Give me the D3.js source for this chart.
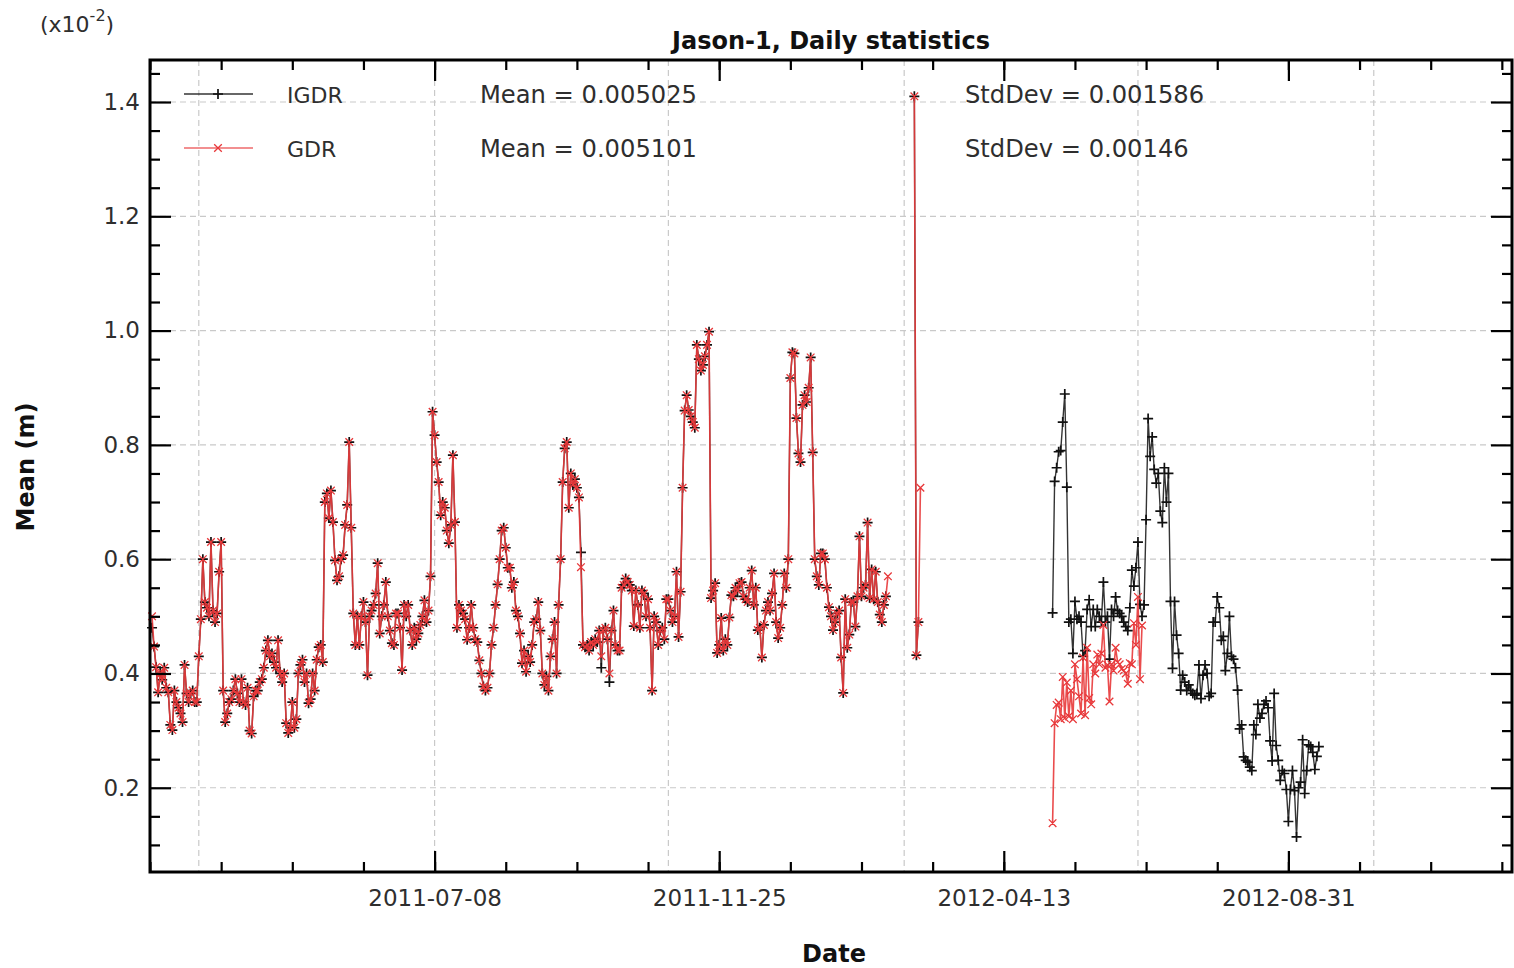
<!DOCTYPE html>
<html><head><meta charset="utf-8">
<script src="https://cdn.jsdelivr.net/npm/d3@7"></script>
<style>
body{margin:0;background:#fff;}
text{font-family:"DejaVu Sans",sans-serif;}
</style></head><body>
<svg id="chart" width="1514" height="968"></svg>
<script>
// ---------------- DATA ----------------
const seriesNames = ["IGDR", "GDR"];
const meanLabels = ["Mean = 0.005025", "Mean = 0.005101"];
const stdLabels = ["StdDev = 0.001586", "StdDev = 0.00146"];
const majorTickDates = ["2011-07-08", "2011-11-25", "2012-04-13", "2012-08-31"];
const gridDates = ["2011-03-14", "2011-07-08", "2011-10-31", "2012-02-24", "2012-06-18", "2012-10-12"];
const yTickValues = [0.2, 0.4, 0.6, 0.8, 1.0, 1.2, 1.4];

// daily values, units of 1e-2 m
const seg1Start = "2011-02-19";
const igdrSeg1 = [
0.48,0.447,0.411,0.367,0.40,0.389,0.41,0.375,0.367,0.31,0.301,0.37,0.35,0.34,0.33,0.315,0.415,0.365,0.35,0.365,0.37,0.35,0.35,0.43,0.495,
0.60,
0.525,0.515,0.50,0.63,0.51,0.49,0.505,0.578,0.63,
0.37,0.315,0.33,0.35,0.355,0.37,0.39,0.365,0.35,0.39,0.35,0.345,0.375,0.30,0.295,
0.36,0.37,0.37,0.385,0.39,0.41,0.44,0.458,0.43,0.435,0.42,0.41,0.458,0.40,0.385,0.40,0.313,0.296,
0.305,0.35,0.305,0.32,0.40,0.415,0.424,0.385,0.40,0.348,0.355,0.40,0.37,0.424,0.446,0.45,0.42,
0.70,0.715,0.672,0.72,0.665,0.598,0.563,0.57,0.60,0.607,0.66,0.695,0.805,
0.655,0.505,0.45,0.50,0.45,0.50,0.525,0.49,0.397,
0.50,0.51,0.52,0.54,0.593,0.47,0.50,0.52,0.56,0.50,0.475,0.453,0.45,0.505,0.505,0.48,0.406,0.52,0.50,0.52,0.475,0.45,0.48,0.46,0.47,0.485,0.50,0.528,0.49,0.51,0.57,
0.858,
0.817,0.77,0.735,0.677,0.70,0.69,0.65,0.628,0.66,
0.782,
0.665,0.48,0.52,0.51,0.505,0.495,0.459,0.48,0.52,0.48,0.46,0.455,0.423,0.40,0.377,0.37,0.375,
0.40,0.45,0.48,0.52,0.556,0.60,0.65,
0.655,0.62,0.585,0.585,0.55,0.56,0.51,0.50,0.47,0.418,0.44,0.403,0.43,0.42,0.45,0.49,0.495,0.525,0.475,0.40,0.38,0.395,
0.37,
0.43,0.46,0.49,0.40,0.52,0.60,0.735,0.794,0.805,
0.69,0.75,0.73,0.74,0.725,0.708,0.612,0.45,0.446,
0.45,0.44,0.455,0.45,0.46,0.455,0.475,0.41,0.475,0.48,0.46,0.385,
0.475,0.51,0.45,0.44,0.44,0.55,0.555,0.566,0.56,0.555,0.545,0.483,0.545,0.52,0.48,0.545,0.54,0.50,0.53,0.48,0.37,
0.50,0.49,0.45,0.475,0.48,0.46,0.53,0.53,0.51,0.49,0.50,0.578,0.464,0.543,0.725,0.86,0.887,
0.861,0.85,0.84,0.83,0.975,0.95,0.93,0.94,0.955,0.975,0.998,0.532,
0.545,0.558,0.436,0.45,0.497,0.44,0.46,0.45,0.498,0.537,0.535,0.55,0.545,0.558,0.56,0.535,0.53,0.525,0.55,0.58,0.52,0.55,0.476,0.48,0.428,0.485,0.51,0.525,0.51,0.54,0.575,0.49,0.462,0.48,0.52,0.575,0.55,0.60,
0.917,0.962,0.96,0.847,0.785,0.77,0.87,0.887,0.875,0.90,0.953,
0.787,0.60,0.57,0.555,0.61,0.61,0.60,0.55,0.516,0.50,0.476,0.49,0.505,0.51,0.428,0.366,
0.53,0.445,0.468,0.525,0.525,0.482,0.535,0.64,0.535,0.55,0.555,0.664,0.532,0.582,0.53,0.578,0.525,0.503,0.49,0.52,0.535
];
const gdrSeg1 = [
0.50,0.447,0.411,0.367,0.40,0.389,0.41,0.375,0.367,0.31,0.301,0.37,0.35,0.34,0.33,0.315,0.415,0.365,0.35,0.365,0.37,0.35,0.35,0.43,0.495,
0.60,
0.525,0.515,0.50,0.63,0.51,0.49,0.505,0.578,0.63,
0.37,0.315,0.33,0.35,0.355,0.37,0.39,0.365,0.35,0.39,0.35,0.345,0.375,0.30,0.295,
0.36,0.37,0.37,0.385,0.39,0.41,0.44,0.458,0.43,0.435,0.42,0.41,0.458,0.40,0.385,0.40,0.313,0.296,
0.305,0.35,0.305,0.32,0.40,0.415,0.424,0.385,0.40,0.348,0.355,0.40,0.37,0.424,0.446,0.45,0.42,
0.70,0.715,0.672,0.72,0.665,0.598,0.563,0.57,0.60,0.607,0.66,0.695,0.805,
0.655,0.505,0.45,0.50,0.45,0.50,0.525,0.49,0.397,
0.50,0.51,0.52,0.54,0.593,0.47,0.50,0.52,0.56,0.50,0.475,0.453,0.45,0.505,0.505,0.48,0.406,0.52,0.50,0.52,0.475,0.45,0.48,0.46,0.47,0.485,0.50,0.528,0.49,0.51,0.57,
0.858,
0.817,0.77,0.735,0.677,0.70,0.69,0.65,0.628,0.66,
0.782,
0.665,0.48,0.52,0.51,0.505,0.495,0.459,0.48,0.52,0.48,0.46,0.455,0.423,0.40,0.377,0.37,0.375,
0.40,0.45,0.48,0.52,0.556,0.60,0.65,
0.655,0.62,0.585,0.585,0.55,0.56,0.51,0.50,0.47,0.418,0.44,0.403,0.43,0.42,0.45,0.49,0.495,0.525,0.475,0.40,0.38,0.395,
0.37,
0.43,0.46,0.49,0.40,0.52,0.60,0.735,0.794,0.805,
0.69,0.75,0.73,0.74,0.725,0.708,0.586,0.45,0.446,
0.45,0.44,0.455,0.45,0.46,0.455,0.475,0.43,0.475,0.48,0.46,0.40,
0.475,0.51,0.45,0.44,0.44,0.55,0.555,0.566,0.56,0.555,0.545,0.483,0.545,0.52,0.48,0.545,0.54,0.50,0.53,0.48,0.37,
0.50,0.49,0.45,0.475,0.48,0.46,0.53,0.53,0.51,0.49,0.50,0.578,0.464,0.543,0.725,0.86,0.887,
0.861,0.85,0.84,0.83,0.975,0.95,0.93,0.94,0.955,0.975,0.998,0.532,
0.545,0.558,0.436,0.45,0.497,0.44,0.46,0.45,0.498,0.537,0.535,0.55,0.545,0.558,0.56,0.535,0.53,0.525,0.55,0.58,0.52,0.55,0.476,0.48,0.428,0.485,0.51,0.525,0.51,0.54,0.575,0.49,0.462,0.48,0.52,0.575,0.55,0.60,
0.917,0.962,0.96,0.847,0.785,0.77,0.87,0.887,0.875,0.90,0.953,
0.787,0.60,0.57,0.555,0.61,0.61,0.60,0.55,0.516,0.50,0.476,0.49,0.505,0.51,0.428,0.366,
0.53,0.445,0.468,0.525,0.525,0.482,0.535,0.64,0.535,0.55,0.555,0.664,0.532,0.582,0.53,0.578,0.525,0.503,0.49,0.52,0.535,0.57
];
const spikeStart = "2012-02-29";
const igdrSpike = [1.41, 0.432, 0.49];
const gdrSpike = [1.41, 0.432, 0.49, 0.725];
const seg2Start = "2012-05-07";
const igdrSeg2 = [
0.506,0.736,0.76,0.788,0.79,0.84,0.889,0.726,0.49,0.495,0.435,0.526,0.495,0.50,0.49,0.43,0.44,0.512,0.529,0.482,
0.512,0.482,0.512,0.50,0.49,0.56,0.49,0.50,0.425,0.512,0.50,0.534,0.51,0.505,0.50,0.49,0.482,0.475,0.515,0.581,
0.553,0.585,0.63,0.521,0.50,0.52,
0.669,0.846,0.78,0.814,0.757,0.733,0.75,0.684,0.664,0.76,0.70,0.75,
0.526,0.409,0.526,0.467,0.435,0.371,0.397,0.385,0.37,0.38,0.37,0.365,0.362,0.365,0.415,0.356,0.397,0.415,0.40,0.36,
0.365,0.49,0.49,0.534,0.515,0.458,0.465,0.405,0.435,0.50,0.43,0.425,0.41,0.371,0.303,0.31,0.254,0.248,0.245,0.236,
0.23,0.31,0.293,0.346,0.322,0.33,0.346,0.352,0.34,0.282,0.247,0.365,0.274,0.248,0.213,0.23,0.225,0.197,0.141,0.197,
0.23,0.195,0.114,0.20,0.21,0.284,0.19,0.23,0.275,0.272,0.262,0.232,0.255,0.272
];
const gdrSeg2 = [
0.138,0.313,0.345,0.349,0.32,0.394,0.322,0.384,0.325,0.37,0.32,0.416,0.39,0.36,0.33,0.428,0.327,0.445,0.357,0.346,
0.416,0.40,0.433,0.416,0.435,0.485,0.41,0.415,0.351,0.416,0.405,0.445,0.42,0.416,0.408,0.405,0.40,0.382,0.418,0.416,
0.488,0.45,0.534,0.39,0.484
];

// ---------------- CHART ----------------
const parse = d3.utcParse("%Y-%m-%d");
const svg = d3.select("#chart");
const L = 150, R = 1512, T = 60, B = 872;
const TXT = "#2e2e2e";
const x = d3.scaleUtc().domain([parse("2011-02-18"), parse("2012-12-19")]).range([L, R]);
const y = d3.scaleLinear().domain([0.0526, 1.4735]).range([B, T]);

function pts(start, vals){ const s = parse(start); return vals.map((v,i)=>({d: d3.utcDay.offset(s,i), v})); }
const igdr = [pts(seg1Start, igdrSeg1), pts(spikeStart, igdrSpike), pts(seg2Start, igdrSeg2)];
const gdr = [pts(seg1Start, gdrSeg1), pts(spikeStart, gdrSpike), pts(seg2Start, gdrSeg2)];

// grid
const grid = svg.append("g").attr("stroke","#c9c9c9").attr("stroke-width",1.2).attr("stroke-dasharray","6,4");
grid.selectAll("line.h").data(yTickValues).join("line").attr("x1",L).attr("x2",R).attr("y1",d=>y(d)).attr("y2",d=>y(d));
grid.selectAll("line.v").data(gridDates).join("line").attr("x1",d=>x(parse(d))).attr("x2",d=>x(parse(d))).attr("y1",T).attr("y2",B);

const line = d3.line().x(p=>x(p.d)).y(p=>y(p.v));
const plus = (cx,cy,s)=>`M${cx-s},${cy}h${2*s}M${cx},${cy-s}v${2*s}`;
const cross = (cx,cy,s)=>`M${cx-s},${cy-s}l${2*s},${2*s}M${cx-s},${cy+s}l${2*s},${-2*s}`;

const BLACK = "#111", RED = "#e8383a";
function drawSeries(segs, color, lw, lop, markerFn, ms, mw){
  const g = svg.append("g");
  segs.forEach(seg=>{
    g.append("path").datum(seg).attr("d",line).attr("fill","none").attr("stroke",color).attr("stroke-opacity",lop).attr("stroke-width",lw).attr("stroke-linejoin","round");
  });
  const all = segs.flat();
  g.append("path").attr("d", all.map(p=>markerFn(x(p.d),y(p.v),ms)).join("")).attr("stroke",color).attr("stroke-width",mw).attr("fill","none");
}
drawSeries(igdr, BLACK, 1.4, 0.85, plus, 5, 1.7);
drawSeries(gdr, RED, 1.6, 0.9, cross, 3.8, 1.3);

// frame
svg.append("rect").attr("x",L).attr("y",T).attr("width",R-L).attr("height",B-T).attr("fill","none").attr("stroke","#000").attr("stroke-width",3);

// ticks
const minorDates = d3.range(0, 671, 35).map(k=>d3.utcDay.offset(parse("2011-02-18"),k));
const majorDates = majorTickDates.map(parse);
const yMinor = d3.range(0.1, 1.46, 0.05).map(v=>+v.toFixed(2)).filter(v=>Math.abs(v/0.2-Math.round(v/0.2))>1e-6);

function styleAxis(g){ g.select(".domain").remove(); g.selectAll(".tick line").attr("stroke","#000").attr("stroke-width",2.2); g.selectAll("text").attr("font-family","DejaVu Sans").attr("font-size",23).attr("fill",TXT); }

svg.append("g").attr("transform",`translate(0,${B})`).call(d3.axisBottom(x).tickValues(minorDates).tickSize(-10).tickFormat("")).call(styleAxis);
svg.append("g").attr("transform",`translate(0,${B})`).call(d3.axisBottom(x).tickValues(majorDates).tickSize(-21).tickPadding(18).tickFormat(d3.utcFormat("%Y-%m-%d"))).call(styleAxis);
svg.append("g").attr("transform",`translate(0,${T})`).call(d3.axisTop(x).tickValues(minorDates).tickSize(-10).tickFormat("")).call(styleAxis);
svg.append("g").attr("transform",`translate(0,${T})`).call(d3.axisTop(x).tickValues(majorDates).tickSize(-21).tickFormat("")).call(styleAxis);

svg.append("g").attr("transform",`translate(${L},0)`).call(d3.axisLeft(y).tickValues(yMinor).tickSize(-10).tickFormat("")).call(styleAxis);
svg.append("g").attr("transform",`translate(${L},0)`).call(d3.axisLeft(y).tickValues(yTickValues).tickSize(-21).tickPadding(10).tickFormat(d3.format(".1f"))).call(styleAxis);
svg.append("g").attr("transform",`translate(${R},0)`).call(d3.axisRight(y).tickValues(yMinor).tickSize(-10).tickFormat("")).call(styleAxis);
svg.append("g").attr("transform",`translate(${R},0)`).call(d3.axisRight(y).tickValues(yTickValues).tickSize(-21).tickFormat("")).call(styleAxis);

// titles
svg.append("text").attr("x",(L+R)/2).attr("y",49).attr("text-anchor","middle").attr("font-size",24).attr("font-weight","bold").attr("fill","#111").text("Jason-1, Daily statistics");
svg.append("text").attr("x",834).attr("y",962).attr("text-anchor","middle").attr("font-size",24).attr("font-weight","bold").attr("fill","#111").text("Date");
svg.append("text").attr("transform","translate(34,467) rotate(-90)").attr("text-anchor","middle").attr("font-size",24).attr("font-weight","bold").attr("fill","#111").text("Mean (m)");
const sc = svg.append("text").attr("x",40).attr("y",32).attr("font-size",22).attr("fill",TXT);
sc.append("tspan").text("(x10");
sc.append("tspan").attr("dy",-11).attr("font-size",16).text("-2");
sc.append("tspan").attr("dy",11).text(")");

// legend
const legY = [94, 148];
const lg = svg.append("g");
lg.append("line").attr("x1",184).attr("x2",253).attr("y1",legY[0]).attr("y2",legY[0]).attr("stroke",BLACK).attr("stroke-opacity",0.85).attr("stroke-width",1.4);
lg.append("path").attr("d",plus(218,legY[0],5)).attr("stroke",BLACK).attr("stroke-width",1.7);
lg.append("line").attr("x1",184).attr("x2",253).attr("y1",legY[1]).attr("y2",legY[1]).attr("stroke",RED).attr("stroke-opacity",0.75).attr("stroke-width",1.6);
lg.append("path").attr("d",cross(218,legY[1],3.8)).attr("stroke",RED).attr("stroke-width",1.3);
seriesNames.forEach((n,i)=>{
  lg.append("text").attr("x",287).attr("y",legY[i]+8.5).attr("font-size",22).attr("fill",TXT).text(n);
  lg.append("text").attr("x",480).attr("y",legY[i]+8.5).attr("font-size",24.2).attr("fill",TXT).text(meanLabels[i]);
  lg.append("text").attr("x",965).attr("y",legY[i]+8.5).attr("font-size",24.2).attr("fill",TXT).text(stdLabels[i]);
});
</script>
</body></html>
